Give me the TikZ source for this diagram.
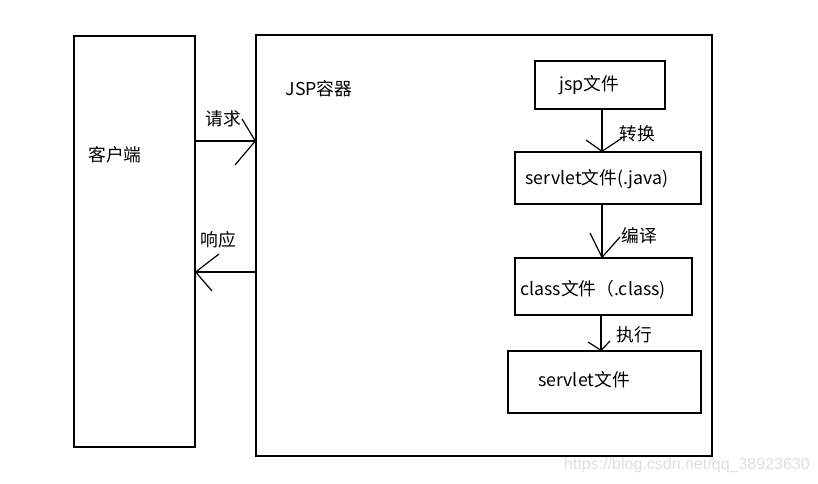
\documentclass[tikz,border=0pt]{standalone}
\usepackage{fontspec}
\setmainfont{Noto Sans CJK SC}
\begin{document}
\begin{tikzpicture}[x=0.75pt,y=-0.75pt,
  box/.style={draw,line width=1pt,inner sep=0pt,fill=none},
  txt/.style={inner sep=0pt,font=\fontsize{13.3}{15}\selectfont},
  ln/.style={line width=0.9pt}]
\useasboundingbox (0,0) rectangle (818,483);
% boxes
\node[box,minimum width=90.75pt,minimum height=308.25pt] (client) at (134.5,241.5) {};
\node[box,minimum width=342pt,minimum height=315.75pt] (container) at (484,245.5) {};
\node[box,minimum width=97.5pt,minimum height=36pt] (jsp) at (600,85) {};
\node[box,minimum width=139.5pt,minimum height=39pt] (java) at (608,178) {};
\node[box,minimum width=132.75pt,minimum height=42.75pt] (cls) at (603.5,286.5) {};
\node[box,minimum width=144.75pt,minimum height=46.5pt] (srv) at (604.5,382) {};
% texts
\node[txt] (tclient) at (115,155) {客户端};
\node[txt] (tcont) at (319,89) {JSP容器};
\node[txt] (tjsp) at (589,85) {jsp文件};
\node[txt] (tjava) at (597,179) {servlet文件(.java)};
\node[txt] (tcls) at (593,290) {class文件（.class)};
\node[txt] (tsrv) at (584,380) {servlet文件};
\node[txt] (lreq) at (223,119) {请求};
\node[txt] (lresp) at (218,240) {响应};
\node[txt] (l1) at (637,134) {转换};
\node[txt] (l2) at (639,236) {编译};
\node[txt] (l3) at (634,335) {执行};
\node[inner sep=0pt,anchor=east,text=black!13,font=\fontspec{Liberation Sans}\fontsize{12}{14}\selectfont] (wm) at (810,465) {https://blog.csdn.net/qq\_38923630};
% request arrow
\coordinate (rq) at (0,141);
\draw[ln] (client.east |- rq) -- (container.west |- rq);
\coordinate (rqa) at (242,119);
\coordinate (rqb) at (235,165);
\draw[ln] (rqa) -- (container.west |- rq) -- (rqb);
% response arrow
\coordinate (rs) at (0,272);
\draw[ln] (container.west |- rs) -- (client.east |- rs);
\coordinate (rsa) at (219,254);
\coordinate (rsb) at (212,291);
\draw[ln] (rsa) -- (client.east |- rs) -- (rsb);
% jsp -> java
\coordinate (v1) at (602,0);
\draw[ln] (jsp.south -| v1) -- (java.north -| v1);
\coordinate (v1a) at (586,140);
\coordinate (v1b) at (622,138);
\draw[ln] (v1a) -- (java.north -| v1) -- (v1b);
% java -> class
\coordinate (v2) at (602,0);
\draw[ln] (java.south -| v2) -- (cls.north -| v2);
\coordinate (v2a) at (590,233);
\coordinate (v2b) at (620,237);
\draw[ln] (v2a) -- (cls.north -| v2) -- (v2b);
% class -> servlet
\coordinate (v3) at (601,0);
\draw[ln] (cls.south -| v3) -- (srv.north -| v3);
\coordinate (v3a) at (588,342);
\coordinate (v3b) at (610,341);
\draw[ln] (v3a) -- (srv.north -| v3) -- (v3b);
\end{tikzpicture}
\end{document}
